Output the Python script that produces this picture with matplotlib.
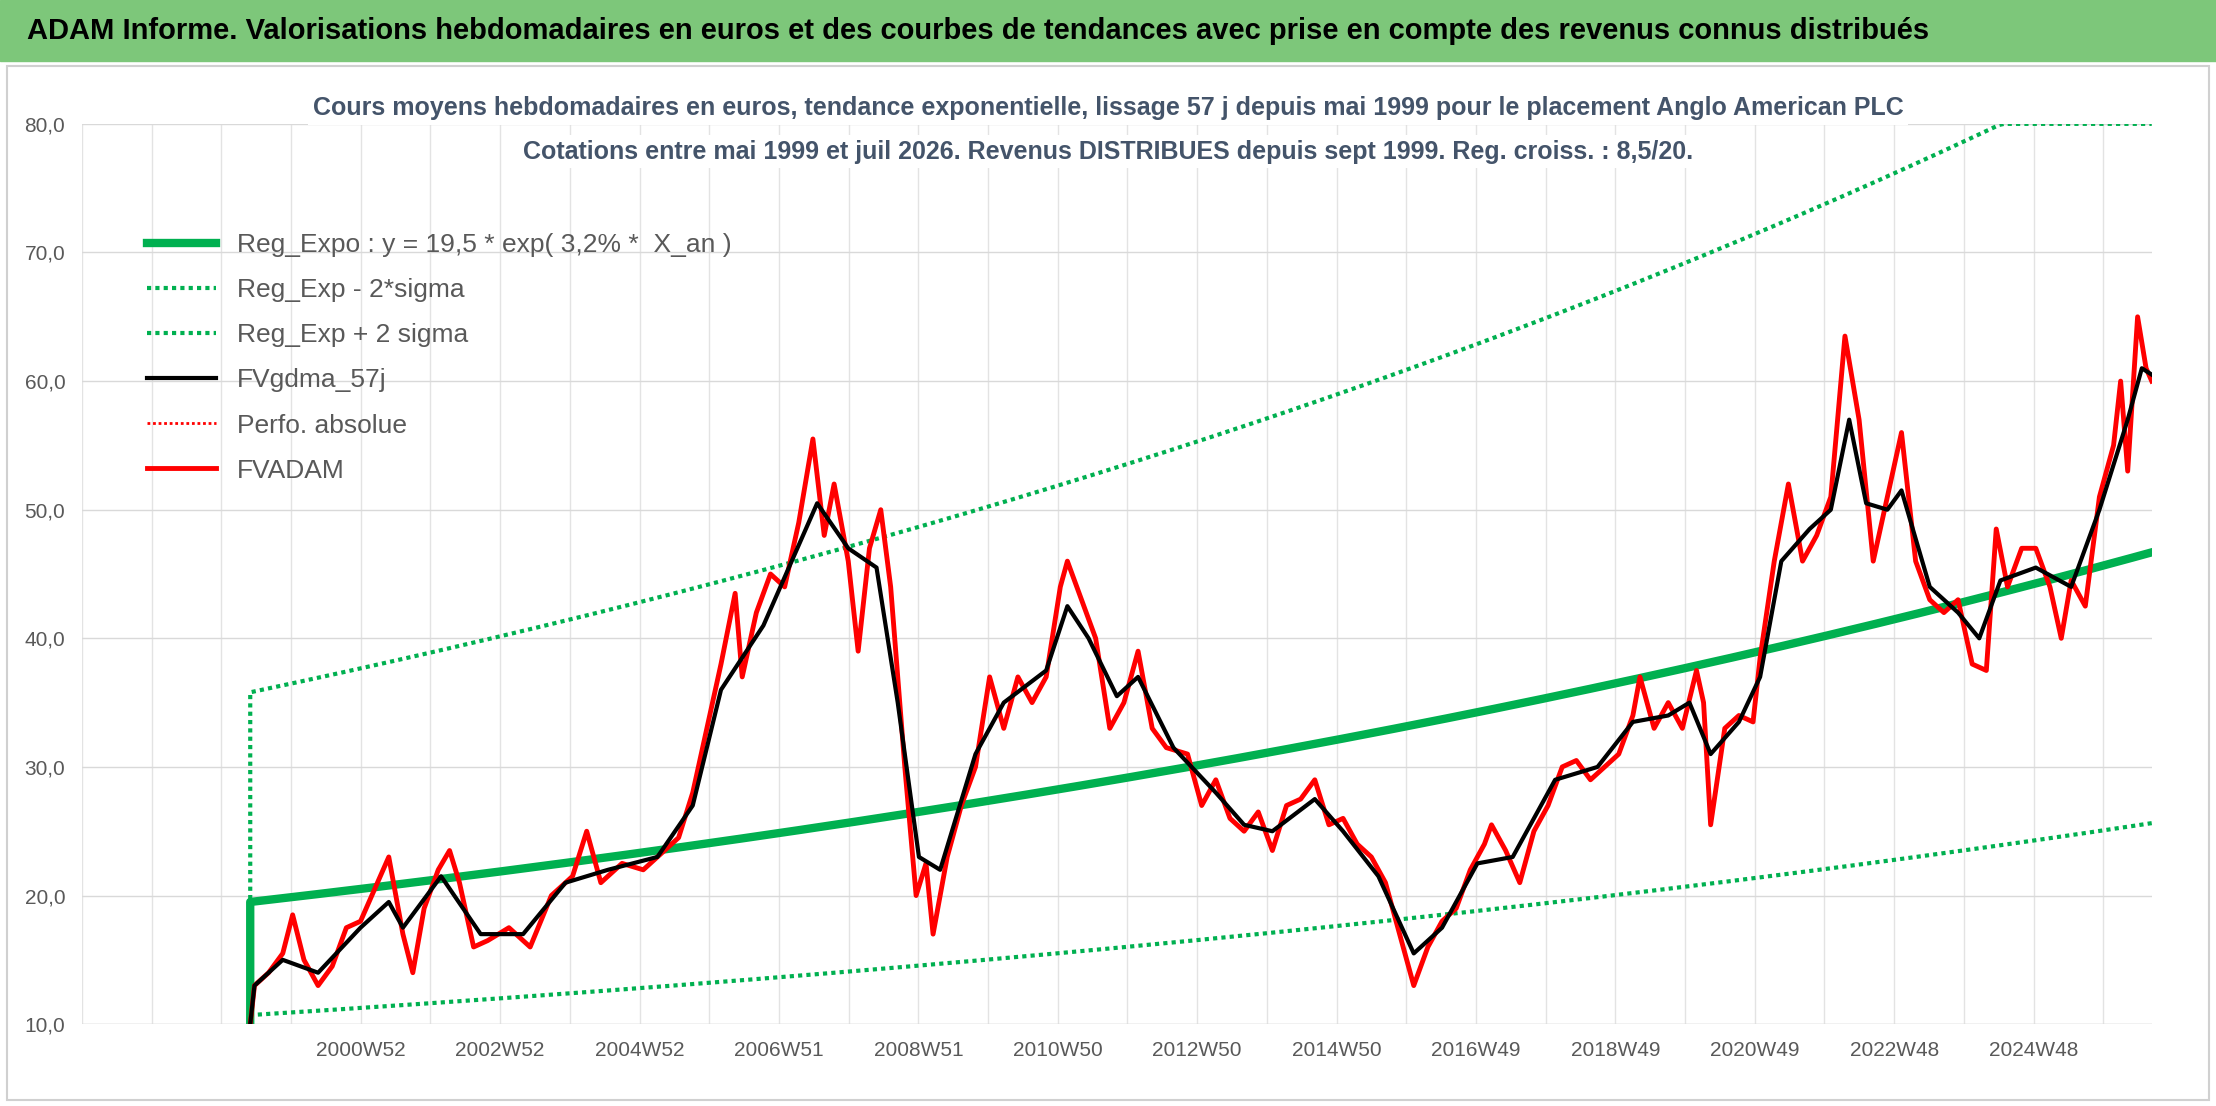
import numpy as np
import matplotlib
matplotlib.use("Agg")
import matplotlib.pyplot as plt
from matplotlib.patches import Rectangle

plt.rcParams['font.family'] = ['Liberation Sans', 'DejaVu Sans']

red_x = [177,180,190,200,207,215,225,235,245,255,265,275,285,292,300,310,318,325,335,345,360,375,390,405,415,425,440,455,470,480,490,500,510,520,525,535,545,555,565,575,583,590,600,607,615,623,630,640,648,655,660,670,680,690,700,710,720,730,740,750,755,765,775,785,795,805,815,825,840,850,860,870,880,890,900,910,920,930,940,950,960,970,980,990,1000,1010,1020,1030,1040,1050,1055,1065,1075,1085,1095,1105,1115,1125,1135,1145,1155,1160,1170,1180,1190,1200,1205,1210,1220,1230,1240,1245,1255,1265,1275,1285,1295,1305,1315,1325,1335,1345,1355,1365,1375,1385,1395,1405,1412,1420,1430,1440,1450,1458,1465,1475,1485,1495,1500,1505,1512,1518,1522]
red_v = [10,13,14,15.5,18.5,15,13,14.5,17.5,18,20.5,23,17,14,19,22,23.5,21,16,16.5,17.5,16,20,21.5,25,21,22.5,22,23.5,24.5,28,33,38,43.5,37,42,45,44,49,55.5,48,52,46,39,47,50,44,30,20,22.5,17,23,27,30,37,33,37,35,37,44,46,43,40,33,35,39,33,31.5,31,27,29,26,25,26.5,23.5,27,27.5,29,25.5,26,24,23,21,17,13,16,18,19,22,24,25.5,23.5,21,25,27,30,30.5,29,30,31,34,37,33,35,33,37.5,35,25.5,33,34,33.5,38.5,46,52,46,48,51,63.5,57,46,51,56,46,43,42,43,38,37.5,48.5,44,47,47,44,40,44.5,42.5,51,55,60,53,65,61,60]
blk_x = [177,180,200,225,255,275,285,312,340,370,400,430,465,490,510,540,560,578,600,620,635,650,665,690,710,740,755,770,790,805,830,860,880,900,930,950,975,1000,1020,1045,1070,1100,1130,1155,1180,1195,1210,1230,1245,1260,1280,1295,1308,1320,1335,1345,1365,1385,1400,1415,1440,1465,1485,1505,1515,1522]
blk_v = [10,13,15,14,17.5,19.5,17.5,21.5,17,17,21,22,23,27,36,41,46,50.5,47,45.5,35,23,22,31,35,37.5,42.5,40,35.5,37,31.5,28,25.5,25,27.5,25,21.5,15.5,17.5,22.5,23,29,30,33.5,34,35,31,33.5,37,46,48.5,50,57,50.5,50,51.5,44,42,40,44.5,45.5,44,50,57,61,60.5]
tick_labels = ["2000W52","2002W52","2004W52","2006W51","2008W51","2010W50","2012W50","2014W50","2016W49","2018W49","2020W49","2022W48","2024W48"]
reg_a, reg_b = 19.5, 0.032
sig_up, sig_dn = 1.836, 0.549

def px2yr(p):
    return 1997 + (np.asarray(p, float) - 58) / 49.3

rx, bx = px2yr(red_x), px2yr(blk_x)
t0, t1 = rx[0], px2yr(1522)
t = np.linspace(t0, t1, 400)
reg = reg_a * np.exp(reg_b * (t - t0))
up = np.minimum(reg * sig_up, 80)
dn = reg * sig_dn

fig = plt.figure(figsize=(22.16, 11.06), dpi=100)
fig.patches.append(Rectangle((0.0, 0.945), 1, 0.055, transform=fig.transFigure, color='#7DC77A', zorder=0))
fig.patches.append(Rectangle((0.003, 0.005), 0.994, 0.935, transform=fig.transFigure, fill=False, ec='#d0d0d0', lw=1.5))
fig.text(0.012, 0.972, "ADAM Informe. Valorisations hebdomadaires en euros et des courbes de tendances avec prise en compte des revenus connus distribués",
         fontsize=21, fontweight='bold', va='center', ha='left')

ax = fig.add_axes([0.037, 0.074, 0.934, 0.814])
ax.set_xlim(1997, t1)
ax.set_ylim(10, 80)
ax.set_yticks(np.arange(10, 81, 10))
ax.set_yticklabels([f"{v:.1f}".replace('.', ',') for v in np.arange(10, 81, 10)], color='#595959', fontsize=15)
for yr in range(1997, 2027):
    ax.axvline(yr, color='#e3e3e3', lw=1, zorder=0)
ax.set_xticks(np.arange(2001, 2026, 2))
ax.set_xticklabels(tick_labels, color='#595959', fontsize=15)
ax.tick_params(which='both', length=0, pad=12)
ax.grid(True, axis='y', color='#d9d9d9', lw=1)
for s in ax.spines.values():
    s.set_visible(False)
ax.axhline(10, color='#d9d9d9', lw=1)

ax.plot(np.r_[t0, t], np.r_[10, reg], color='#00B050', lw=6, label="Reg_Expo : y = 19,5 * exp( 3,2% *  X_an )")
ax.plot(np.r_[t0, t], np.r_[10, dn], color='#00B050', lw=3, ls=(0, (1, 1)), label="Reg_Exp - 2*sigma")
ax.plot(np.r_[t0, t], np.r_[10, up], color='#00B050', lw=3, ls=(0, (1, 1)), label="Reg_Exp + 2 sigma")
ax.plot(bx, blk_v, color='black', lw=3, label="FVgdma_57j", zorder=5)
ax.plot([], [], color='red', lw=2, ls=(0, (1, 1)), label="Perfo. absolue")
ax.plot(rx, red_v, color='#FF0000', lw=3.5, label="FVADAM", zorder=3)

leg = ax.legend(loc='upper left', bbox_to_anchor=(0.02, 0.905), frameon=False, fontsize=19,
                labelcolor='#595959', handlelength=2.6, labelspacing=0.8)

fig.text(0.5, 0.902, "Cours moyens hebdomadaires en euros, tendance exponentielle, lissage 57 j depuis mai 1999 pour le placement Anglo American PLC",
         ha='center', va='center', fontsize=18, fontweight='bold', color='#44546A',
         bbox=dict(fc='white', ec='none', pad=3))
fig.text(0.5, 0.863, "Cotations entre mai 1999 et juil 2026. Revenus DISTRIBUES depuis sept 1999. Reg. croiss. : 8,5/20.",
         ha='center', va='center', fontsize=18, fontweight='bold', color='#44546A',
         bbox=dict(fc='white', ec='none', pad=3))

fig.savefig("out.png", dpi=100)
